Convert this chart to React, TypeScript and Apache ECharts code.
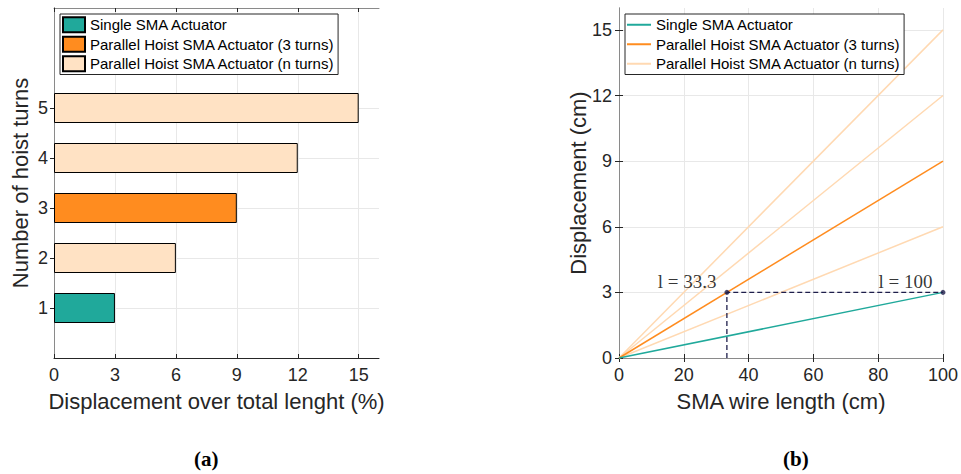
import React, { useEffect, useRef } from "react";
import * as echarts from "echarts";

// ---------- data: panel (a) ----------
const barTurns = [1, 2, 3, 4, 5];
const barDisplacementPct = [3, 6, 9, 12, 15];
const barKind = ["single", "n", "three", "n", "n"];
const xTicksA = [0, 3, 6, 9, 12, 15];
const yTicksA = [1, 2, 3, 4, 5];

// ---------- data: panel (b) ----------
const wireLength = [0, 100];
const singleDisp = [0, 3];
const threeTurnDisp = [0, 9];
const nTurnDisp = [
  [0, 6],
  [0, 12],
  [0, 15],
];
const xTicksB = [0, 20, 40, 60, 80, 100];
const yTicksB = [0, 3, 6, 9, 12, 15];
const markLengths = [33.3, 100];
const markDisp = 3;

const NAME_SINGLE = "Single SMA Actuator";
const NAME_THREE = "Parallel Hoist SMA Actuator (3 turns)";
const NAME_N = "Parallel Hoist SMA Actuator (n turns)";

const TEAL = "#20A99B";
const ORANGE = "#FF8C1F";
const PEACH = "#FFE2C4";
const PEACH_LINE = "#FFD9B2";
const NAVY = "#1E1E4B";
const AX = "#262626";
const AX_LIGHT = "#8a8a8a";
const GRID = "#e8e8e8";
const SANS = "Liberation Sans";
const SERIF = "Liberation Serif";

function buildA(): any {
  const cats = Array.from({ length: 8 }, (_, i) => String(i));
  const dataFor = (kind: string) =>
    cats.map((c) => {
      const idx = barTurns.indexOf(Number(c));
      return idx >= 0 && barKind[idx] === kind ? barDisplacementPct[idx] : null;
    });
  const showTick = (_i: number, v: string) => yTicksA.includes(Number(v));
  const barBase = {
    type: "bar",
    barWidth: 30,
    barGap: "-100%",
    xAxisIndex: 0,
    yAxisIndex: 0,
  };
  return {
    animation: false,
    textStyle: { fontFamily: SANS },
    grid: { left: 54, top: 8, width: 325, height: 350 },
    legend: {
      orient: "vertical",
      left: 60,
      top: 14,
      padding: [2, 3, 2, 2],
      itemGap: 2,
      itemWidth: 22,
      itemHeight: 15,
      icon: "rect",
      backgroundColor: "#fff",
      borderColor: AX,
      borderWidth: 1,
      borderRadius: 0,
      textStyle: { fontSize: 15, color: "#000", fontFamily: SANS, lineHeight: 17.5 },
      data: [NAME_SINGLE, NAME_THREE, NAME_N],
    },
    xAxis: [
      {
        type: "value",
        min: 0,
        max: 16,
        interval: 3,
        position: "bottom",
        name: "Displacement over total lenght (%)",
        nameLocation: "middle",
        nameGap: 32,
        nameMoveOverlap: false,
        nameTextStyle: { fontSize: 22, color: AX, fontFamily: SANS },
        axisLine: { show: true, lineStyle: { color: AX, width: 1 } },
        axisTick: { show: true, inside: true, length: 4, customValues: xTicksA, lineStyle: { color: AX } },
        axisLabel: { customValues: xTicksA, fontSize: 18, color: AX, margin: 8, fontFamily: SANS },
        splitLine: { show: true, lineStyle: { color: GRID } },
      },
      {
        type: "value",
        min: 0,
        max: 16,
        interval: 3,
        position: "top",
        axisLine: { show: true, lineStyle: { color: AX_LIGHT, width: 1 } },
        axisTick: { show: true, inside: true, length: 4, customValues: xTicksA, lineStyle: { color: AX } },
        axisLabel: { show: false },
        splitLine: { show: false },
      },
    ],
    yAxis: [
      {
        type: "category",
        data: cats,
        boundaryGap: false,
        position: "left",
        name: "Number of hoist turns",
        nameLocation: "middle",
        nameGap: 23,
        nameMoveOverlap: false,
        nameTextStyle: { fontSize: 22, color: AX, fontFamily: SANS },
        axisLine: { show: true, lineStyle: { color: AX, width: 1 } },
        axisTick: { show: true, inside: true, length: 4, interval: showTick, lineStyle: { color: AX } },
        axisLabel: { interval: showTick, fontSize: 18, color: AX, margin: 6, fontFamily: SANS },
        splitLine: { show: true, interval: showTick, lineStyle: { color: GRID } },
      },
      {
        type: "category",
        data: cats,
        boundaryGap: false,
        position: "right",
        axisLine: { show: true, lineStyle: { color: AX_LIGHT, width: 1 } },
        axisTick: { show: true, inside: true, length: 4, interval: showTick, lineStyle: { color: AX } },
        axisLabel: { show: false },
        splitLine: { show: false },
      },
    ],
    series: [
      {
        ...barBase,
        name: NAME_SINGLE,
        data: dataFor("single"),
        itemStyle: { color: TEAL, borderColor: "#000", borderWidth: 1 },
      },
      {
        ...barBase,
        name: NAME_THREE,
        data: dataFor("three"),
        itemStyle: { color: ORANGE, borderColor: "#000", borderWidth: 1 },
      },
      {
        ...barBase,
        name: NAME_N,
        data: dataFor("n"),
        itemStyle: { color: PEACH, borderColor: "#000", borderWidth: 1 },
      },
    ],
    graphic: [
      {
        type: "text",
        left: 194,
        top: 448,
        style: {
          text: "(a)",
          font: `bold 21px "${SERIF}"`,
          fill: "#000",
        },
      },
    ],
  };
}

function buildB(): any {
  const pairs = (ys: number[]) => wireLength.map((x, i) => [x, ys[i]]);
  const lineBase = { type: "line", symbol: "none", showSymbol: false, silent: true };
  return {
    animation: false,
    textStyle: { fontFamily: SANS },
    grid: { left: 139, top: 8, width: 324, height: 350 },
    legend: {
      orient: "vertical",
      left: 145,
      top: 14,
      padding: [2, 3, 2, 2],
      itemGap: 2,
      itemWidth: 24,
      itemHeight: 2,
      backgroundColor: "#fff",
      borderColor: AX,
      borderWidth: 1,
      borderRadius: 0,
      textStyle: { fontSize: 15, color: "#000", fontFamily: SANS, lineHeight: 17.5 },
      data: [
        { name: NAME_SINGLE, icon: "rect" },
        { name: NAME_THREE, icon: "rect" },
        { name: NAME_N, icon: "rect" },
      ],
    },
    xAxis: [
      {
        type: "value",
        min: 0,
        max: 100,
        interval: 20,
        position: "bottom",
        name: "SMA wire length (cm)",
        nameLocation: "middle",
        nameGap: 32,
        nameMoveOverlap: false,
        nameTextStyle: { fontSize: 22, color: AX, fontFamily: SANS },
        axisLine: { show: true, lineStyle: { color: AX, width: 1 } },
        axisTick: { show: true, inside: true, length: 4, customValues: xTicksB, lineStyle: { color: AX } },
        axisLabel: { customValues: xTicksB, fontSize: 18, color: AX, margin: 8, fontFamily: SANS },
        splitLine: { show: true, lineStyle: { color: GRID } },
      },
      {
        type: "value",
        min: 0,
        max: 100,
        interval: 20,
        position: "top",
        axisLine: { show: true, lineStyle: { color: AX_LIGHT, width: 1 } },
        axisTick: { show: true, inside: true, length: 4, customValues: xTicksB, lineStyle: { color: AX } },
        axisLabel: { show: false },
        splitLine: { show: false },
      },
    ],
    yAxis: [
      {
        type: "value",
        min: 0,
        max: 16,
        interval: 3,
        position: "left",
        name: "Displacement (cm)",
        nameLocation: "middle",
        nameGap: 30,
        nameMoveOverlap: false,
        nameTextStyle: { fontSize: 22, color: AX, fontFamily: SANS },
        axisLine: { show: true, lineStyle: { color: AX_LIGHT, width: 1 } },
        axisTick: { show: true, inside: true, length: 4, customValues: yTicksB, lineStyle: { color: AX } },
        axisLabel: { customValues: yTicksB, fontSize: 18, color: AX, margin: 7, fontFamily: SANS },
        splitLine: { show: true, lineStyle: { color: GRID } },
      },
      {
        type: "value",
        min: 0,
        max: 16,
        interval: 3,
        position: "right",
        axisLine: { show: true, lineStyle: { color: AX_LIGHT, width: 1 } },
        axisTick: { show: true, inside: true, length: 4, customValues: yTicksB, lineStyle: { color: AX } },
        axisLabel: { show: false },
        splitLine: { show: false },
      },
    ],
    series: [
      ...nTurnDisp.map((ys) => ({
        ...lineBase,
        name: NAME_N,
        data: pairs(ys),
        itemStyle: { color: PEACH_LINE },
        lineStyle: { color: PEACH_LINE, width: 1.5 },
      })),
      {
        ...lineBase,
        name: NAME_THREE,
        data: pairs(threeTurnDisp),
        itemStyle: { color: ORANGE },
        lineStyle: { color: ORANGE, width: 1.5 },
      },
      {
        ...lineBase,
        name: NAME_SINGLE,
        data: pairs(singleDisp),
        itemStyle: { color: TEAL },
        lineStyle: { color: TEAL, width: 1.5 },
      },
      {
        ...lineBase,
        name: "guide",
        data: [
          [markLengths[0], 0],
          [markLengths[0], markDisp],
          [markLengths[1], markDisp],
        ],
        lineStyle: { color: NAVY, width: 1.3, type: [5, 3] },
      },
      {
        type: "scatter",
        name: "marks",
        silent: true,
        symbolSize: 5,
        itemStyle: { color: NAVY },
        data: markLengths.map((x) => [x, markDisp]),
        label: {
          show: true,
          position: [-8, -8],
          align: "right",
          verticalAlign: "middle",
          formatter: (p: any) => `l = ${p.value[0]}`,
          fontFamily: SERIF,
          fontSize: 19,
          color: "#000",
        },
        z: 5,
      },
    ],
    graphic: [
      {
        type: "text",
        left: 303,
        top: 448,
        style: {
          text: "(b)",
          font: `bold 21px "${SERIF}"`,
          fill: "#000",
        },
      },
    ],
  };
}

export default function App() {
  const refA = useRef<HTMLDivElement>(null);
  const refB = useRef<HTMLDivElement>(null);
  useEffect(() => {
    const a = echarts.init(refA.current!, undefined, { renderer: "svg" });
    const b = echarts.init(refB.current!, undefined, { renderer: "svg" });
    a.setOption(buildA());
    b.setOption(buildB());
    return () => {
      a.dispose();
      b.dispose();
    };
  }, []);
  return (
    <div style={{ position: "absolute", left: 0, top: 0, width: 961, height: 474, background: "#fff" }}>
      <div ref={refA} style={{ position: "absolute", left: 0, top: 0, width: 480, height: 474 }} />
      <div ref={refB} style={{ position: "absolute", left: 480, top: 0, width: 481, height: 474 }} />
    </div>
  );
}
